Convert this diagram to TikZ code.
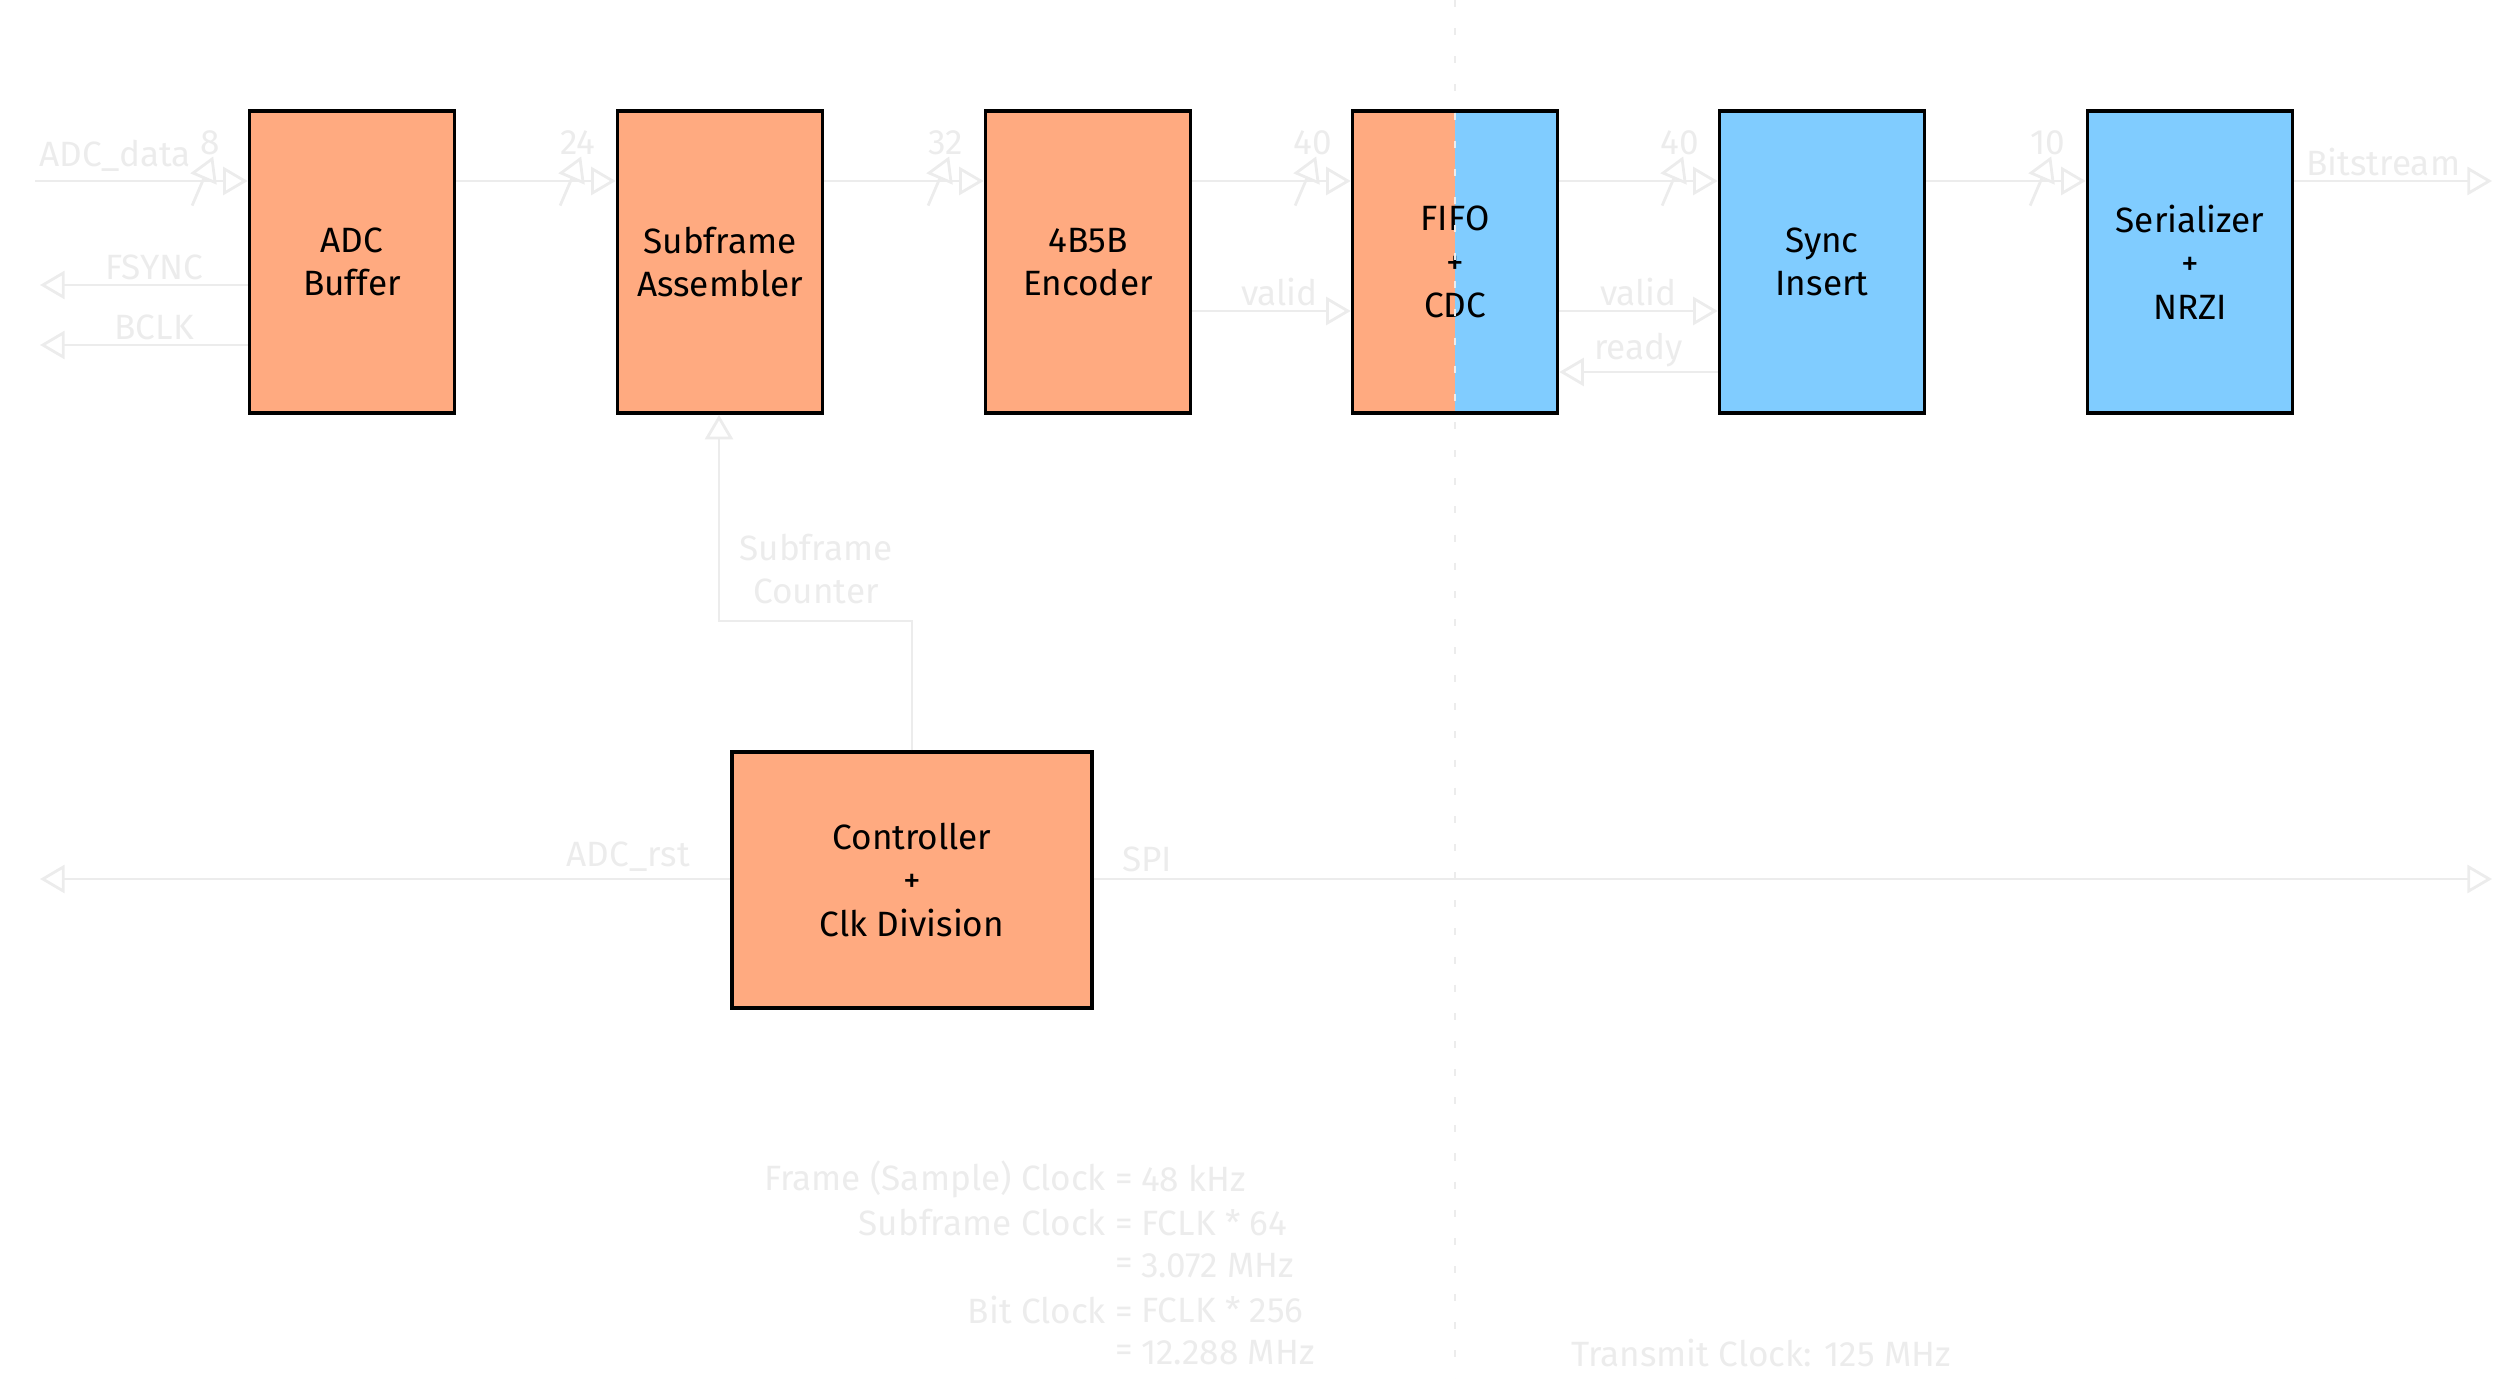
\documentclass[tikz,border=0pt]{standalone}
\usepackage{fontspec}
\setmainfont{Fira Sans}
\usetikzlibrary{arrows.meta,decorations.markings}
\definecolor{rxorange}{RGB}{255,170,128}
\definecolor{txblue}{RGB}{128,204,255}
\definecolor{faint}{RGB}{236,236,236}

\begin{document}
\begin{tikzpicture}[x=0.01cm,y=-0.01cm,
    font=\fontsize{10}{12.4}\selectfont,
    blk/.style={draw=black,line width=1pt,minimum width=2.05cm,minimum height=3.02cm,align=center},
    sig/.style={draw=faint,line width=0.8pt,-{Triangle[open,length=7pt,width=8pt]}},
    lbl/.style={text=faint,inner sep=1pt},
    bus/.style={postaction={decorate},decoration={markings,mark=at position -0.45cm with
        {\draw[faint,line width=0.8pt] (-3pt,-7pt) -- (3pt,7pt);
         \node[lbl,above] at (2pt,6pt) {#1};}}}
  ]
  \useasboundingbox (0,0) rectangle (2500,1379);

  % blocks
  \node[blk,fill=rxorange] (buf) at (352,262) {ADC\\Buffer};
  \node[blk,fill=rxorange] (asm) at (720,262) {Subframe\\Assembler};
  \node[blk,fill=rxorange] (enc) at (1088,262) {4B5B\\Encoder};
  \fill[rxorange] (1352,111) rectangle (1455,413);
  \fill[txblue] (1455,111) rectangle (1558,413);
  \node[blk] (fifo) at (1455,262) {FIFO\\+\\CDC};
  \node[blk,fill=txblue] (sync) at (1822,262) {Sync\\Insert};
  \node[blk,fill=txblue] (ser) at (2190,262) {Serializer\\+\\NRZI};
  \node[blk,fill=rxorange,minimum width=3.6cm,minimum height=2.56cm] (ctl) at (912,880) {Controller\\+\\Clk Division};

  % clock domain boundary
  \draw[faint,line width=0.8pt,dash pattern=on 2pt off 6pt] (1455,0) -- (1455,1379);

  % data path
  \coordinate (din) at (35,181);
  \coordinate (dout) at (2492,181);
  \draw[sig,bus=8] (din) -- (buf.west |- din);
  \node[lbl,anchor=south west] at (35,176) {ADC\_data};
  \draw[sig,bus=24] (buf.east |- din) -- (asm.west |- din);
  \draw[sig,bus=32] (asm.east |- din) -- (enc.west |- din);
  \draw[sig,bus=40] (enc.east |- din) -- (fifo.west |- din);
  \draw[sig,bus=40] (fifo.east |- din) -- (sync.west |- din);
  \draw[sig,bus=10] (sync.east |- din) -- (ser.west |- din);
  \draw[sig] (ser.east |- din) -- node[lbl,above,pos=0.45] {Bitstream} (dout);

  % handshake
  \draw[sig] (enc.east |- 0,311) -- node[lbl,above,pos=0.55] {valid} (fifo.west |- 0,311);
  \draw[sig] (fifo.east |- 0,311) -- node[lbl,above,pos=0.5] {valid} (sync.west |- 0,311);
  \draw[sig] (sync.west |- 0,372) -- node[lbl,above,pos=0.5] {ready} (fifo.east |- 0,372);

  % ADC clocks
  \coordinate (fs) at (40,285);
  \coordinate (bc) at (40,345);
  \draw[sig] (buf.west |- fs) -- node[lbl,above,pos=0.45] {FSYNC} (fs);
  \draw[sig] (buf.west |- bc) -- node[lbl,above,pos=0.45] {BCLK} (bc);

  % controller
  \coordinate (cnt) at (719,621);
  \draw[sig] (ctl.north) |- (cnt) -- (asm.south -| cnt);
  \node[lbl,align=center] at (816,569) {Subframe\\Counter};
  \coordinate (rst) at (40,879);
  \coordinate (spi) at (2492,879);
  \draw[sig] (ctl.west |- rst) -- (rst);
  \node[lbl,anchor=south east] at (694,876) {ADC\_rst};
  \draw[sig] (ctl.east |- spi) -- (spi);
  \node[lbl,anchor=south west] at (1118,876) {SPI};

  % clock notes
  \node[lbl,anchor=east] at (1137,1179) {Frame (Sample) Clock =};
  \node[lbl,anchor=west] at (1137,1179) {48 kHz};
  \node[lbl,anchor=east] at (1137,1223) {Subframe Clock =};
  \node[lbl,anchor=west] at (1137,1223) {FCLK * 64};
  \node[lbl,anchor=east] at (1137,1266) {=};
  \node[lbl,anchor=west] at (1137,1266) {3.072 MHz};
  \node[lbl,anchor=east] at (1137,1310) {Bit Clock =};
  \node[lbl,anchor=west] at (1137,1310) {FCLK * 256};
  \node[lbl,anchor=east] at (1137,1353) {=};
  \node[lbl,anchor=west] at (1137,1353) {12.288 MHz};
  \node[lbl] at (1761,1353) {Transmit Clock: 125 MHz};
\end{tikzpicture}
\end{document}
